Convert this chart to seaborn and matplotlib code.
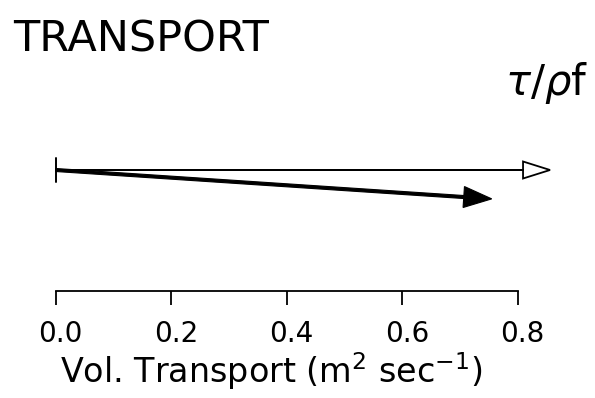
import matplotlib
matplotlib.use("Agg")
import matplotlib.pyplot as plt
import matplotlib.transforms as mtransforms
import seaborn as sns

# ---- data ----
vectors = ["tau/rho f", "transport"]
u_vals = [0.856, 0.755]
v_vals = [0.0, -0.050]
tick_vals = [0.0, 0.2, 0.4, 0.6, 0.8]
tick_labels = ["0.0", "0.2", "0.4", "0.6", "0.8"]
title_text = "TRANSPORT"
vector_label = r"$\tau/\rho$f"
xlabel_text = r"Vol. Transport (m$^2$ sec$^{-1}$)"

sns.set_theme(style="white")
plt.rcParams["font.family"] = ["DejaVu Sans"]
plt.rcParams["mathtext.fontset"] = "dejavusans"

W, H = 595, 398
fig = plt.figure(figsize=(W / 100, H / 100), dpi=100)
fig.patch.set_facecolor("white")

ppu = 577.5  # pixels per data unit
x0, x1 = -0.03, 0.9
left_px = 55.7 + x0 * ppu
bottom_px = 107
height_px = 161
ax = fig.add_axes([left_px / W, bottom_px / H, (x1 - x0) * ppu / W, height_px / H])
ax.set_facecolor("white")
ax.set_xlim(x0, x1)
y_lo = -121 / ppu
ax.set_ylim(y_lo, y_lo + height_px / ppu)

# arrows
styles = {
    "tau/rho f": dict(width=0.0, head_width=17 / ppu, head_length=27 / ppu,
                      fc="white", ec="black", lw=1.3),
    "transport": dict(width=3.0 / ppu, head_width=21 / ppu, head_length=28 / ppu,
                      fc="black", ec="black", lw=0.8),
}
for name, u, v in zip(vectors, u_vals, v_vals):
    ax.arrow(0, 0, u, v, length_includes_head=True, zorder=3, **styles[name])
ax.plot([0, 0], [-12 / ppu, 12 / ppu], color="black", lw=1.4)

# axis styling
sns.despine(ax=ax, left=True, top=True, right=True)
ax.spines["bottom"].set_bounds(tick_vals[0], tick_vals[-1])
ax.spines["bottom"].set_linewidth(1.3)
ax.spines["bottom"].set_color("black")
ax.set_yticks([])
ax.set_xticks(tick_vals)
ax.set_xticklabels(tick_labels)
ax.tick_params(axis="x", direction="out", length=10, width=1.3, color="black",
               pad=11, labelsize=20, labelcolor="black", bottom=True)
offset = mtransforms.ScaledTranslation(5 / 100, 0, fig.dpi_scale_trans)
for lbl in ax.get_xticklabels():
    lbl.set_transform(lbl.get_transform() + offset)

ax.set_xlabel(xlabel_text, fontsize=24, color="black")
ax.xaxis.set_label_coords((271 - left_px) / ((x1 - x0) * ppu), -(bottom_px - 15) / height_px)
ax.xaxis.label.set_va("baseline")

fig.text(13 / W, (H - 52) / H, title_text, fontsize=31, color="black",
         ha="left", va="baseline")
fig.text(588 / W, (H - 95) / H, vector_label, fontsize=30, color="black",
         ha="right", va="baseline")

fig.savefig("out.png", dpi=100, facecolor="white")
